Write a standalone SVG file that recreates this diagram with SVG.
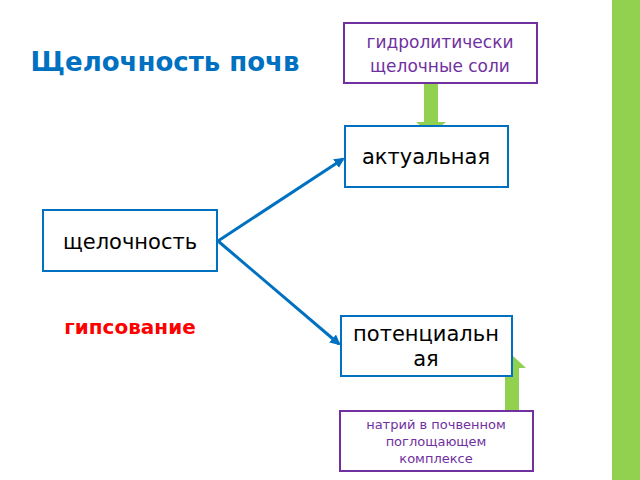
<svg xmlns="http://www.w3.org/2000/svg" width="640" height="480" viewBox="0 0 640 480">
<defs>
<style>
text{font-family:"DejaVu Sans",sans-serif;text-anchor:middle}
.b{fill:#fff;stroke:#0070C0;stroke-width:2}
.p{fill:#fff;stroke:#7030A0;stroke-width:2}
.pt{fill:#7030A0}
.c{stroke:#0070C0;stroke-width:3;fill:none;marker-end:url(#a)}
.g{fill:#92D050}
</style>
<marker id="a" viewBox="0 0 10 10" refX="8" refY="5" markerWidth="3.5" markerHeight="3.5" orient="auto"><path d="M0,0L10,5L0,10z" fill="#0070C0"/></marker>
</defs>
<rect x="612" y="0" width="28" height="480" class="g"/>
<text x="165" y="71" font-size="26" font-weight="bold" fill="#0070C0">Щелочность почв</text>
<text x="130" y="334" font-size="20" font-weight="bold" fill="#FF0000">гипсование</text>
<g id="connectors">
<path class="c" d="M218,241L343,159"/>
<path class="c" d="M218,241L339,344"/>
<path class="g" d="M424,78H438V122H446L431,134L416,122H424Z"/>
<path class="g" d="M505,411H519V368H526L512,355L498,368H505Z"/>
</g>
<g id="hydro"><rect x="344" y="23" width="193" height="60" class="p"/>
<text x="440" y="48" font-size="17" class="pt">гидролитически</text>
<text x="440" y="72" font-size="17" class="pt">щелочные соли</text></g>
<g id="actual"><rect x="345" y="126" width="163" height="61" class="b"/>
<text x="426" y="164" font-size="21">актуальная</text></g>
<g id="alk"><rect x="43" y="210" width="174" height="61" class="b"/>
<text x="130" y="249" font-size="21">щелочность</text></g>
<g id="potent"><rect x="341" y="316" width="171" height="60" class="b"/>
<text x="426" y="341" font-size="21">потенциальн</text>
<text x="426" y="366" font-size="21">ая</text></g>
<g id="natrium"><rect x="340" y="411" width="193" height="60" class="p"/>
<text x="436" y="429" font-size="13" class="pt">натрий в почвенном</text>
<text x="436" y="446" font-size="13" class="pt">поглощающем</text>
<text x="436" y="463" font-size="13" class="pt">комплексе</text></g>
</svg>
